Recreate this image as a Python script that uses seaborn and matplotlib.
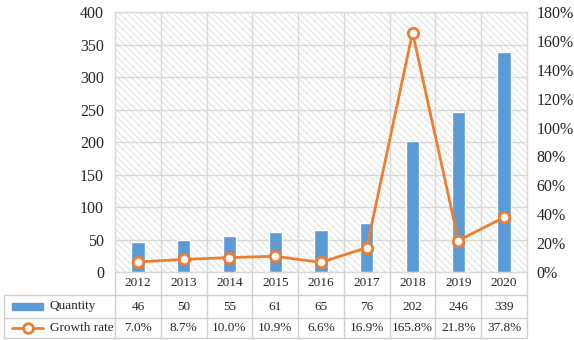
import matplotlib
matplotlib.use("Agg")
import matplotlib.pyplot as plt
from matplotlib.lines import Line2D
from matplotlib.patches import Rectangle
import seaborn as sns
import pandas as pd

years = ["2012", "2013", "2014", "2015", "2016", "2017", "2018", "2019", "2020"]
quantity = [46, 50, 55, 61, 65, 76, 202, 246, 339]
growth = [7.0, 8.7, 10.0, 10.9, 6.6, 16.9, 165.8, 21.8, 37.8]
left_ticks = [0, 50, 100, 150, 200, 250, 300, 350, 400]
right_ticks = [0, 20, 40, 60, 80, 100, 120, 140, 160, 180]

BLUE = "#5B9BD5"
ORANGE = "#ED7D31"
GRID = "#d9d9d9"
TXT = "#262626"

sns.set_style("white")
plt.rcParams["font.family"] = ["Liberation Serif", "DejaVu Serif"]
plt.rcParams["hatch.linewidth"] = 0.8

df = pd.DataFrame({"year": years, "quantity": quantity, "growth": growth})

W, H = 574, 340
fig = plt.figure(figsize=(W / 100, H / 100), dpi=100)
L, R, T, B = 115, 527, 12, 272
ax = fig.add_axes([L / W, 1 - B / H, (R - L) / W, (B - T) / H])
ax.add_patch(Rectangle((0, 0), 1, 1, transform=ax.transAxes, facecolor="white",
                       edgecolor="#e2e2e2", hatch="\\\\\\\\\\", linewidth=0,
                       zorder=0))

sns.barplot(data=df, x="year", y="quantity", color=BLUE, width=0.29,
            saturation=1, ax=ax, zorder=3)
ax.set_xlim(-0.5, len(years) - 0.5)
ax.set_ylim(0, 400)
ax.set_yticks(left_ticks)
ax.set_yticklabels([str(v) for v in left_ticks], fontsize=11.5, color=TXT)
ax.set_xticks([i + 0.5 for i in range(len(years) - 1)], minor=True)
ax.set_xticks([])
ax.grid(axis="y", color=GRID, linewidth=1, zorder=1)
ax.grid(axis="x", which="minor", color=GRID, linewidth=1, zorder=1)
ax.set_axisbelow(True)
ax.tick_params(axis="both", which="both", length=0, pad=8)
ax.set_xlabel("")
ax.set_ylabel("")
for s in ax.spines.values():
    s.set_color(GRID)
    s.set_linewidth(1)

ax2 = ax.twinx()
sns.lineplot(data=df, x="year", y="growth", ax=ax2, color=ORANGE, linewidth=2,
             marker="o", markersize=7.5, markerfacecolor="white",
             markeredgecolor=ORANGE, markeredgewidth=2, zorder=5)
ax2.set_xlim(-0.5, len(years) - 0.5)
ax2.set_ylim(0, 180)
ax2.set_yticks(right_ticks)
ax2.set_yticklabels([f"{v}%" for v in right_ticks], fontsize=11.5, color=TXT)
ax2.tick_params(axis="y", length=0, pad=7)
ax2.set_xlabel("")
ax2.set_ylabel("")
for s in ax2.spines.values():
    s.set_visible(False)

# ---- data table below the chart ----
def fx(x):
    return x / W

def fy(y):
    return 1 - y / H

TL = "#d0d0d0"
rows = [272, 295, 318, 338]
xs_b = [L + (R - L) * i / len(years) for i in range(len(years) + 1)]
lab_left = 4

def hline(y, x0, x1):
    fig.add_artist(Line2D([fx(x0), fx(x1)], [fy(y), fy(y)], color=TL, lw=1))

def vline(x, y0, y1):
    fig.add_artist(Line2D([fx(x), fx(x)], [fy(y0), fy(y1)], color=TL, lw=1))

hline(rows[1], lab_left, R)
hline(rows[2], lab_left, R)
hline(rows[3], lab_left, R)
for xb in xs_b:
    vline(xb, rows[0], rows[3])
vline(lab_left, rows[1], rows[3])

ts = 9.5
for i, yr in enumerate(years):
    cx = (xs_b[i] + xs_b[i + 1]) / 2
    fig.text(fx(cx), fy((rows[0] + rows[1]) / 2), yr, ha="center", va="center",
             fontsize=ts, color=TXT)
    fig.text(fx(cx), fy((rows[1] + rows[2]) / 2), str(quantity[i]), ha="center",
             va="center", fontsize=ts, color=TXT)
    fig.text(fx(cx), fy((rows[2] + rows[3]) / 2), f"{growth[i]:.1f}%", ha="center",
             va="center", fontsize=ts, color=TXT)

# legend keys
yq = (rows[1] + rows[2]) / 2
fig.add_artist(Rectangle((fx(12), fy(yq + 3.5)), fx(31), 7 / H, color=BLUE))
fig.text(fx(50), fy(yq), "Quantity", ha="left", va="center", fontsize=ts, color=TXT)
yg = (rows[2] + rows[3]) / 2
fig.add_artist(Line2D([fx(12), fx(43)], [fy(yg), fy(yg)], color=ORANGE, lw=2))
fig.add_artist(Line2D([fx(27.5)], [fy(yg)], color=ORANGE, marker="o", markersize=7,
                      markerfacecolor="white", markeredgewidth=2, lw=0))
fig.text(fx(50), fy(yg), "Growth rate", ha="left", va="center", fontsize=ts, color=TXT)

fig.savefig("out.png", dpi=100, facecolor="white")
